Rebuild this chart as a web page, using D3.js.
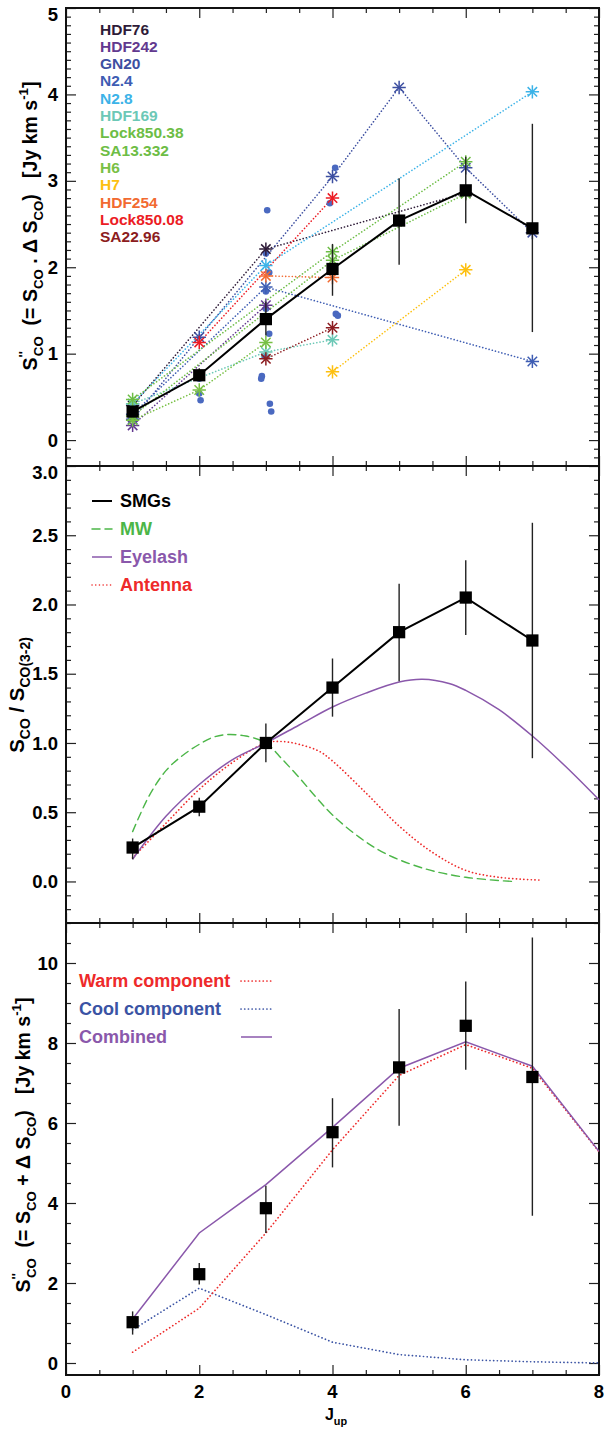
<!DOCTYPE html>
<html>
<head>
<meta charset="utf-8">
<script src="https://cdn.jsdelivr.net/npm/d3@7"></script>
<style>
  body { margin: 0; background: #fff; }
  text { font-family: "Liberation Sans", Arial, sans-serif; font-weight: bold; }
</style>
</head>
<body>
<div id="wrapper"></div>
<script>
// ---- data ----
const jLevels = [1, 2, 3, 4, 5, 6, 7];

// top panel: stacked SMG SLED
const smgFlux = [0.33, 0.75, 1.40, 1.98, 2.54, 2.89, 2.45];
const smgFluxLo = [0.28, 0.68, 1.21, 1.67, 2.03, 2.51, 1.25];
const smgFluxHi = [0.38, 0.83, 1.60, 2.27, 3.03, 3.28, 3.66];

const sourceNames = ["HDF76", "HDF242", "GN20", "N2.4", "N2.8", "HDF169", "Lock850.38",
  "SA13.332", "H6", "H7", "HDF254", "Lock850.08", "SA22.96"];
const sourceColors = ["#2e1b38", "#62398f", "#3d4fa1", "#3e5db3", "#3cb3e8", "#6cc8b6", "#6dbd45",
  "#6dbd45", "#78c044", "#fdc010", "#f26a30", "#ec1c24", "#8c1c20"];
const sourceJ = [[1, 3, 6], [1, 3], [1, 2, 4, 5, 6, 7], [1, 3, 7], [1, 3, 7], [1, 3, 4], [1, 4, 6],
  [1, 4, 6], [1, 2, 3], [4, 6], [3, 4], [2, 4], [3, 4]];
const sourceFlux = [[0.40, 2.21, 2.86], [0.17, 1.56], [0.24, 1.19, 3.05, 4.08, 3.15, 2.40],
  [0.30, 1.77, 0.91], [0.42, 2.02, 4.03], [0.42, 1.02, 1.16], [0.47, 2.18, 3.22],
  [0.28, 2.08, 2.85], [0.23, 0.58, 1.13], [0.79, 1.97], [1.90, 1.88], [1.13, 2.80], [0.94, 1.30]];

// blue filled dots (other measurements)
const dotJ = [2.0, 2.0, 2.02, 3.02, 3.0, 3.05, 3.0, 3.0, 3.05, 2.98, 2.94, 2.93, 3.06, 3.08, 4.04, 3.96, 4.05, 4.08];
const dotFlux = [0.71, 0.54, 0.46, 2.66, 2.16, 1.94, 1.72, 1.52, 1.23, 0.97, 0.74, 0.71, 0.42, 0.33, 3.15, 2.74, 1.46, 1.44];

// middle panel: ratio to CO(3-2)
const ratio = [0.245, 0.54, 1.00, 1.40, 1.80, 2.05, 1.74];
const ratioLo = [0.16, 0.47, 0.86, 1.19, 1.445, 1.78, 0.89];
const ratioHi = [0.31, 0.605, 1.14, 1.61, 2.15, 2.32, 2.59];

const mwJ = [1.0, 1.25, 1.5, 1.75, 2.0, 2.2, 2.4, 2.7, 3.0, 3.25, 3.5, 3.75, 4.0, 4.4, 4.8, 5.4, 6.0, 6.7];
const mwRatio = [0.36, 0.62, 0.80, 0.91, 0.99, 1.04, 1.06, 1.05, 1.00, 0.88, 0.75, 0.61, 0.48, 0.32, 0.20, 0.09, 0.03, 0.00];
const eyelashJ = [1.0, 1.5, 2.0, 2.5, 3.0, 3.5, 4.0, 4.5, 5.0, 5.35, 5.75, 6.0, 6.5, 7.0, 7.5, 8.0];
const eyelashRatio = [0.16, 0.47, 0.70, 0.88, 1.00, 1.13, 1.26, 1.36, 1.44, 1.46, 1.43, 1.38, 1.24, 1.05, 0.83, 0.59];
const antennaJ = [1.0, 1.5, 2.0, 2.5, 3.0, 3.25, 3.5, 3.8, 4.0, 4.5, 5.0, 5.5, 6.0, 6.5, 7.1];
const antennaRatio = [0.17, 0.42, 0.665, 0.86, 1.00, 1.01, 0.99, 0.94, 0.87, 0.64, 0.40, 0.21, 0.08, 0.03, 0.01];

// bottom panel: summed SLED and two-component fit
const sumFlux = [1.02, 2.22, 3.87, 5.77, 7.39, 8.43, 7.15];
const sumFluxLo = [0.71, 1.96, 3.25, 4.89, 5.93, 7.33, 3.68];
const sumFluxHi = [1.29, 2.50, 4.43, 6.62, 8.85, 9.54, 10.64];
const modelJ = [1, 2, 3, 4, 5, 6, 7, 8];
const warmFlux = [0.27, 1.37, 3.25, 5.33, 7.19, 7.96, 7.37, 5.28];
const coolFlux = [0.83, 1.87, 1.21, 0.52, 0.21, 0.08, 0.03, 0.00];
const combinedFlux = [1.10, 3.25, 4.46, 5.89, 7.37, 8.03, 7.42, 5.29];

const xTicksMajor = [0, 2, 4, 6, 8];

// ---- dimensions ----
const dimensions = {
  width: 604,
  height: 1430,
  left: 66,
  right: 599,
  panels: [8, 466, 923, 1375],
};

const svg = d3.select('#wrapper').append('svg')
  .attr('width', dimensions.width)
  .attr('height', dimensions.height);

const xScale = d3.scaleLinear().domain([0, 8]).range([dimensions.left, dimensions.right]);

const colorPurple = '#8a58ab';
const colorGreen = '#4cb648';
const colorRed = '#ee2a2a';
const colorBlue = '#3a53a4';

// ---- helpers ----
function drawFrame(yScale, yMajor, yMinor, fmt, top, bottom) {
  const g = svg.append('g');
  const xMinor = d3.range(0, 8.01, 0.5).filter(v => v % 2 !== 0);
  const axes = [
    [d3.axisBottom(xScale), `translate(0,${bottom})`, xTicksMajor, xMinor],
    [d3.axisTop(xScale), `translate(0,${top})`, xTicksMajor, xMinor],
    [d3.axisLeft(yScale), `translate(${dimensions.left},0)`, yMajor, yMinor],
    [d3.axisRight(yScale), `translate(${dimensions.right},0)`, yMajor, yMinor],
  ];
  axes.forEach(([gen, tr, major, minor]) => {
    [[major, 10], [minor, 5]].forEach(([vals, len]) => {
      const a = g.append('g').attr('transform', tr)
        .call(gen.tickValues(vals).tickSize(-len).tickFormat(''));
      a.select('.domain').remove();
      a.selectAll('line').attr('stroke', '#222').attr('stroke-width', 1.2);
    });
  });
  g.append('rect')
    .attr('x', dimensions.left).attr('y', top)
    .attr('width', dimensions.right - dimensions.left).attr('height', bottom - top)
    .attr('fill', 'none').attr('stroke', '#111').attr('stroke-width', 2);
  // y labels (the top one is pushed down so it stays inside the page)
  g.selectAll('.ylab').data(yMajor).enter().append('text')
    .attr('x', 58).attr('y', d => Math.max(yScale(d), top + 6))
    .attr('dy', '0.36em')
    .attr('text-anchor', 'end')
    .style('font-size', '18.5px')
    .text(fmt);
}

function richText(parent, parts, x, y, size, rotate) {
  const t = parent.append('text')
    .attr('transform', `translate(${x},${y})` + (rotate ? ' rotate(-90)' : ''))
    .attr('text-anchor', 'middle')
    .style('font-size', size + 'px')
    .style('white-space', 'pre');
  let off = 0;
  parts.forEach(p => {
    const shift = p.sup ? -size * 0.45 : p.sub ? size * 0.3 : 0;
    const ts = t.append('tspan').attr('dy', shift - off).text(p.t);
    if (p.sup || p.sub) ts.style('font-size', (size * 0.68) + 'px');
    if (p.dx) ts.attr('dx', p.dx);
    off = shift;
  });
  return t;
}

function errorBars(yScale, lo, hi) {
  svg.append('g').selectAll('line').data(jLevels).enter().append('line')
    .attr('x1', d => xScale(d)).attr('x2', d => xScale(d))
    .attr('y1', (d, i) => yScale(lo[i])).attr('y2', (d, i) => yScale(hi[i]))
    .attr('stroke', '#222').attr('stroke-width', 1.4);
}

function squares(yScale, vals) {
  svg.append('g').selectAll('path').data(jLevels).enter().append('path')
    .attr('d', d3.symbol(d3.symbolSquare, 150))
    .attr('transform', (d, i) => `translate(${xScale(d)},${yScale(vals[i])})`)
    .attr('fill', '#000');
}

function curve(yScale, xs, ys, color, dash, width, smooth) {
  const line = d3.line()
    .x(d => xScale(d[0])).y(d => yScale(d[1]))
    .curve(smooth ? d3.curveCatmullRom : d3.curveLinear);
  svg.append('path')
    .datum(xs.map((x, i) => [x, ys[i]]))
    .attr('d', line)
    .attr('fill', 'none')
    .attr('stroke', color)
    .attr('stroke-width', width)
    .attr('stroke-dasharray', dash)
    .attr('stroke-linecap', dash ? 'round' : 'butt');
}

// ---- top panel ----
const yTop = d3.scaleLinear().domain([-0.3, 5]).range([dimensions.panels[1], dimensions.panels[0]]);
drawFrame(yTop, d3.range(0, 6), d3.range(-0.2, 5, 0.1).filter(v => Math.abs(v - Math.round(v)) > 0.01),
  d => d, dimensions.panels[0], dimensions.panels[1]);

// dotted source lines
sourceNames.forEach((name, s) => {
  curve(yTop, sourceJ[s], sourceFlux[s], sourceColors[s], '0.1 3.2', 1.6, false);
});
// blue dots
svg.append('g').selectAll('circle').data(dotJ).enter().append('circle')
  .attr('cx', d => xScale(d))
  .attr('cy', (d, i) => yTop(dotFlux[i]))
  .attr('r', 3.3)
  .attr('fill', '#4a69c0');
// asterisks
sourceNames.forEach((name, s) => {
  const pts = sourceJ[s].map((j, i) => [j, sourceFlux[s][i]]);
  [d3.symbolPlus, d3.symbolTimes].forEach(type => {
    svg.append('g').selectAll('path').data(pts).enter().append('path')
      .attr('d', d3.symbol(type, 60))
      .attr('transform', d => `translate(${xScale(d[0])},${yTop(d[1])})`)
      .attr('fill', 'none')
      .attr('stroke', sourceColors[s])
      .attr('stroke-width', 1.5);
  });
});
// stacked SMG
errorBars(yTop, smgFluxLo, smgFluxHi);
curve(yTop, jLevels, smgFlux, '#000', null, 2, false);
squares(yTop, smgFlux);
// legend
svg.append('g').selectAll('text').data(sourceNames).enter().append('text')
  .attr('x', 100)
  .attr('y', (d, i) => 29 + i * 17.3)
  .attr('dy', '0.36em')
  .attr('fill', (d, i) => sourceColors[i])
  .style('font-size', '15.5px')
  .text(d => d);

richText(svg, [
  { t: 'S' }, { t: "''", sup: true }, { t: 'CO', sub: true, dx: -5 },
  { t: '  (= S' }, { t: 'CO', sub: true }, { t: ' . \u0394 S' }, { t: 'CO', sub: true },
  { t: ')   [Jy km s' }, { t: '-1', sup: true }, { t: ']' },
], 37, 226, 19.5, true);

// ---- middle panel ----
const yMid = d3.scaleLinear().domain([-0.3, 3.0]).range([dimensions.panels[2], dimensions.panels[1]]);
drawFrame(yMid, d3.range(0, 3.01, 0.5), d3.range(-0.2, 3, 0.1).filter(v => Math.abs(v * 2 - Math.round(v * 2)) > 0.01),
  d3.format('.1f'), dimensions.panels[1], dimensions.panels[2]);

curve(yMid, mwJ, mwRatio, colorGreen, '8 5', 1.4, true);
curve(yMid, antennaJ, antennaRatio, colorRed, '0.1 3.6', 1.7, true);
curve(yMid, eyelashJ, eyelashRatio, colorPurple, null, 1.5, true);
errorBars(yMid, ratioLo, ratioHi);
curve(yMid, jLevels, ratio, '#000', null, 2, false);
squares(yMid, ratio);

const midLegend = [
  ['SMGs', '#000', null],
  ['MW', colorGreen, '8 5'],
  ['Eyelash', colorPurple, null],
  ['Antenna', colorRed, '0.1 3.6'],
];
midLegend.forEach(([label, color, dash], i) => {
  const y = 501 + i * 28;
  svg.append('line').attr('x1', 92).attr('x2', 112).attr('y1', y).attr('y2', y)
    .attr('stroke', color).attr('stroke-width', label === 'SMGs' ? 2 : 1.5)
    .attr('stroke-dasharray', dash).attr('stroke-linecap', dash ? 'round' : 'butt');
  svg.append('text').attr('x', 120).attr('y', y).attr('dy', '0.36em')
    .attr('fill', color).style('font-size', '18px').text(label);
});

richText(svg, [
  { t: 'S' }, { t: 'CO', sub: true }, { t: ' / S' }, { t: 'CO(3-2)', sub: true },
], 24, 695, 20.5, true);

// ---- bottom panel ----
const yBot = d3.scaleLinear().domain([-0.3, 11]).range([dimensions.panels[3], dimensions.panels[2]]);
drawFrame(yBot, d3.range(0, 11, 2), d3.range(0, 11.01, 0.5).filter(v => v % 2 !== 0),
  d => d, dimensions.panels[2], dimensions.panels[3]);

curve(yBot, modelJ, coolFlux, colorBlue, '0.1 3.6', 1.7, false);
curve(yBot, modelJ, warmFlux, colorRed, '0.1 3.6', 1.7, false);
curve(yBot, modelJ, combinedFlux, colorPurple, null, 1.5, false);
errorBars(yBot, sumFluxLo, sumFluxHi);
squares(yBot, sumFlux);

const botLegend = [
  ['Warm component', colorRed, '0.1 3.6'],
  ['Cool component', colorBlue, '0.1 3.6'],
  ['Combined', colorPurple, null],
];
botLegend.forEach(([label, color, dash], i) => {
  const y = 981 + i * 28;
  svg.append('line').attr('x1', 241).attr('x2', 272).attr('y1', y).attr('y2', y)
    .attr('stroke', color).attr('stroke-width', dash ? 1.7 : 1.5)
    .attr('stroke-dasharray', dash).attr('stroke-linecap', dash ? 'round' : 'butt');
  svg.append('text').attr('x', 79).attr('y', y).attr('dy', '0.36em')
    .attr('fill', color).style('font-size', '18px').text(label);
});

richText(svg, [
  { t: 'S' }, { t: "''", sup: true }, { t: 'CO', sub: true, dx: -5 },
  { t: '  (= S' }, { t: 'CO', sub: true }, { t: ' + \u0394 S' }, { t: 'CO', sub: true },
  { t: ')   [Jy km s' }, { t: '-1', sup: true }, { t: ']' },
], 30, 1145, 19.5, true);

// x tick labels and title
svg.append('g').selectAll('text').data(xTicksMajor).enter().append('text')
  .attr('x', d => xScale(d)).attr('y', 1398)
  .attr('text-anchor', 'middle')
  .style('font-size', '18.5px')
  .text(d => d);
richText(svg, [{ t: 'J' }, { t: 'up', sub: true }], 336, 1420, 16, false);
</script>
</body>
</html>
